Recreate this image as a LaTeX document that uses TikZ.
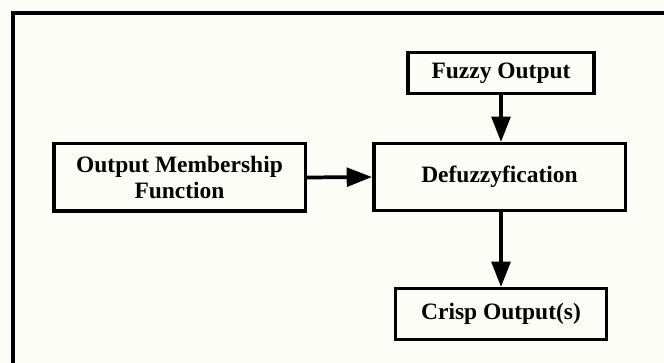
\documentclass[tikz,border=0pt]{standalone}
\usepackage{fontspec}
\setmainfont{Liberation Serif}
\usetikzlibrary{arrows.meta}
\definecolor{bg}{RGB}{253,253,247}
\begin{document}
\begin{tikzpicture}[x=0.75pt,y=-0.75pt,
  box/.style={draw=black,line width=2.6pt,fill=bg,rectangle,inner sep=0pt,
    align=center,font=\bfseries\fontsize{17.6}{19.2}\selectfont},
  conn/.style={line width=2.8pt,-{Triangle[length=19pt,width=14pt]}}]
\useasboundingbox (0,0) rectangle (664,363);
\fill[bg] (0,0) rectangle (664,363);
\draw[line width=2.4pt] (13,380) -- (13,13) -- (680,13);
\node[box,minimum width=139.5pt,minimum height=30.4pt] (fuzzy) at (501,73) {Fuzzy Output};
\node[box,minimum width=188.6pt,minimum height=49.9pt] (def) at (499.5,177) {Defuzzyfication};
\node[box,minimum width=188.6pt,minimum height=50.6pt] (omf) at (179.5,177.5) {Output Membership\\Function};
\node[box,minimum width=157.9pt,minimum height=37.9pt] (crisp) at (501,314) {Crisp Output(s)};
\draw[conn] (fuzzy.south) -- (fuzzy.south |- def.north);
\draw[conn] (omf.east) -- (def.west);
\draw[conn] (crisp.north |- def.south) -- (crisp.north);
\end{tikzpicture}
\end{document}
